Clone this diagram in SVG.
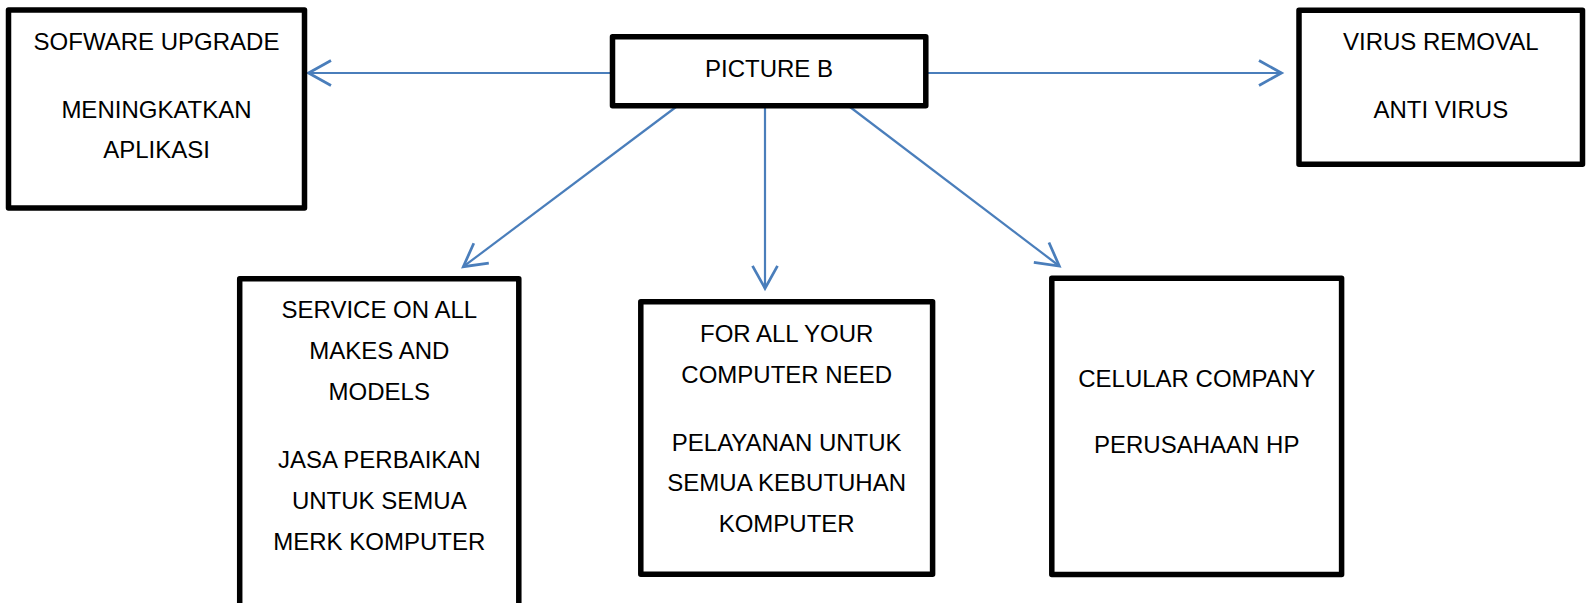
<svg xmlns="http://www.w3.org/2000/svg" width="1590" height="603" viewBox="0 0 1590 603">
<style>
.box{fill:#fff;stroke:#000;stroke-width:5.5;stroke-linejoin:round}
.t{font-family:"Liberation Sans",Arial,sans-serif;font-size:24px;fill:#000;text-anchor:middle}
.c{fill:none;stroke:#4a7ebb;stroke-width:2.2}
</style>
<defs>
<marker id="arr" markerUnits="userSpaceOnUse" markerWidth="30" markerHeight="30" viewBox="-20 -12 22 24" refX="0" refY="0" orient="auto">
<path d="M-18,-10 L0,0 L-18,10" fill="none" stroke="#4a7ebb" stroke-width="2.2"/>
</marker>
</defs>
<rect width="1590" height="603" fill="#fff"/>
<g id="connectors">
<line class="c" x1="611" y1="73" x2="308.5" y2="73" marker-end="url(#arr)"/>
<line class="c" x1="927" y1="73" x2="1281.5" y2="73" marker-end="url(#arr)"/>
<line class="c" x1="676" y1="107" x2="463.3" y2="266.7" marker-end="url(#arr)"/>
<line class="c" x1="765" y1="107" x2="765" y2="288.3" marker-end="url(#arr)"/>
<line class="c" x1="850" y1="107" x2="1059.3" y2="266" marker-end="url(#arr)"/>
</g>
<g id="picture-b">
<rect class="box" x="612.5" y="36.7" width="313.3" height="69"/>
<text class="t" x="769" y="76.7">PICTURE B</text>
</g>
<g id="software-upgrade">
<rect class="box" x="8.5" y="10" width="296" height="198"/>
<text class="t" x="156.5" y="50">SOFWARE UPGRADE</text>
<text class="t" x="156.5" y="118">MENINGKATKAN</text>
<text class="t" x="156.5" y="158">APLIKASI</text>
</g>
<g id="virus-removal">
<rect class="box" x="1299" y="10.3" width="283.5" height="154"/>
<text class="t" x="1440.8" y="50">VIRUS REMOVAL</text>
<text class="t" x="1440.8" y="118">ANTI VIRUS</text>
</g>
<g id="service">
<rect class="box" x="239.7" y="278.8" width="279.1" height="340"/>
<text class="t" x="379.3" y="318.3">SERVICE ON ALL</text>
<text class="t" x="379.3" y="359.3">MAKES AND</text>
<text class="t" x="379.3" y="400">MODELS</text>
<text class="t" x="379.3" y="468.3">JASA PERBAIKAN</text>
<text class="t" x="379.3" y="509.3">UNTUK SEMUA</text>
<text class="t" x="379.3" y="550">MERK KOMPUTER</text>
</g>
<g id="computer-need">
<rect class="box" x="640.8" y="301.8" width="291.8" height="272.4"/>
<text class="t" x="786.7" y="341.7">FOR ALL YOUR</text>
<text class="t" x="786.7" y="382.7">COMPUTER NEED</text>
<text class="t" x="786.7" y="450.7">PELAYANAN UNTUK</text>
<text class="t" x="786.7" y="491">SEMUA KEBUTUHAN</text>
<text class="t" x="786.7" y="531.7">KOMPUTER</text>
</g>
<g id="celular">
<rect class="box" x="1051.8" y="278.3" width="289.8" height="296.2"/>
<text class="t" x="1196.7" y="386.7">CELULAR COMPANY</text>
<text class="t" x="1196.7" y="453.3">PERUSAHAAN HP</text>
</g>
</svg>
